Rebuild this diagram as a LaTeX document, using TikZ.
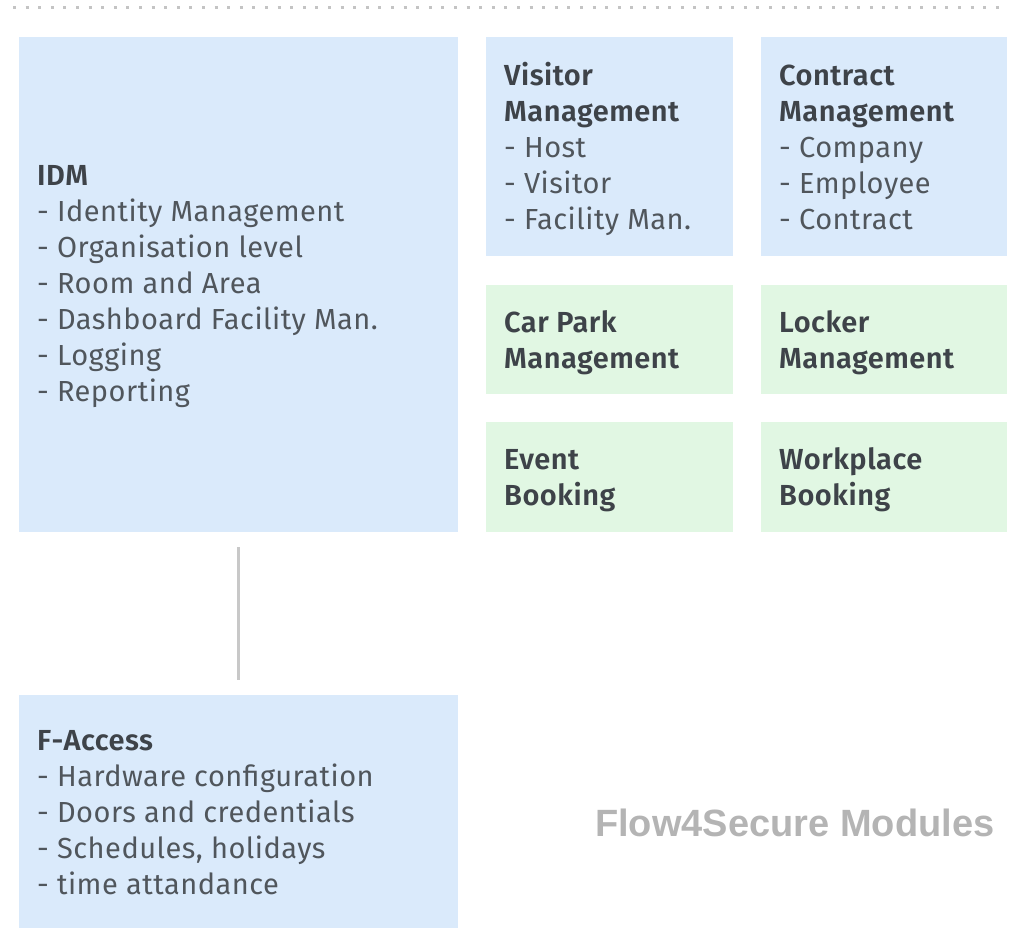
\documentclass[tikz,border=0pt]{standalone}
\usepackage{fontspec}
\setmainfont{Fira Sans}[LetterSpace=1.7, BoldFont={Fira Sans SemiBold}]
\newfontfamily\titlefont{Liberation Sans}
\definecolor{boxblue}{HTML}{DAEAFB}
\definecolor{boxgreen}{HTML}{E1F7E3}
\definecolor{bodytext}{HTML}{50565C}
\definecolor{headtext}{HTML}{3E4349}
\definecolor{linegray}{HTML}{C8C8C8}
\definecolor{dotgray}{HTML}{C4C4C4}
\definecolor{titlegray}{HTML}{B4B4B4}
\tikzset{
  modbox/.style={draw=none, anchor=north west, inner sep=0pt, outer sep=0pt},
  bluebox/.style={modbox, fill=boxblue},
  greenbox/.style={modbox, fill=boxgreen},
  modtext/.style={anchor=base west, inner sep=0pt, align=left, text=bodytext,
    font={\fontsize{29}{36}\selectfont}},
  conn/.style={draw=linegray, line width=3pt},
}
\newcommand{\hd}[1]{{\bfseries\color{headtext}#1}}
\begin{document}
\begin{tikzpicture}[x=1pt,y=-1pt]
\useasboundingbox (0,0) rectangle (1013,940);
% dotted separator
\draw[dotgray, line width=3pt, dash pattern=on 3pt off 9.6pt] (13,7) -- (1008,7);
% boxes
\node[bluebox, minimum width=439pt, minimum height=495pt] (idm) at (19,37) {};
\node[bluebox, minimum width=247pt, minimum height=219pt] (vis) at (486,37) {};
\node[bluebox, minimum width=246pt, minimum height=219pt] (con) at (761,37) {};
\node[greenbox, minimum width=247pt, minimum height=109pt] (car) at (486,285) {};
\node[greenbox, minimum width=246pt, minimum height=109pt] (lock) at (761,285) {};
\node[greenbox, minimum width=247pt, minimum height=110pt] (event) at (486,422) {};
\node[greenbox, minimum width=246pt, minimum height=110pt] (work) at (761,422) {};
\node[bluebox, minimum width=439pt, minimum height=233pt] (fa) at (19,695) {};
% texts (anchored at the baseline of their last line)
\node[modtext] (idmt) at (37,401) {\hd{IDM}\\- Identity Management\\- Organisation level\\- Room and Area\\- Dashboard Facility Man.\\- Logging\\- Reporting};
\node[modtext] (vist) at (504,229) {\hd{Visitor}\\\hd{Management}\\- Host\\- Visitor\\- Facility Man.};
\node[modtext] (cont) at (779,229) {\hd{Contract}\\\hd{Management}\\- Company\\- Employee\\- Contract};
\node[modtext] (cart) at (504,368) {\hd{Car Park}\\\hd{Management}};
\node[modtext] (lockt) at (779,368) {\hd{Locker}\\\hd{Management}};
\node[modtext] (eventt) at (504,505) {\hd{Event}\\\hd{Booking}};
\node[modtext] (workt) at (779,505) {\hd{Workplace}\\\hd{Booking}};
\node[modtext] (fat) at (37,894) {\hd{F-Access}\\- Hardware configuration\\- Doors and credentials\\- Schedules, holidays\\- time attandance};
\node[anchor=base west, inner sep=0pt, text=titlegray, font={\titlefont\bfseries\fontsize{38}{44}\selectfont}] (title) at (595,836) {Flow4Secure Modules};
% connector
\draw[conn] ([yshift=-15pt]idm.south) -- ([yshift=15pt]fa.north);
\end{tikzpicture}
\end{document}
